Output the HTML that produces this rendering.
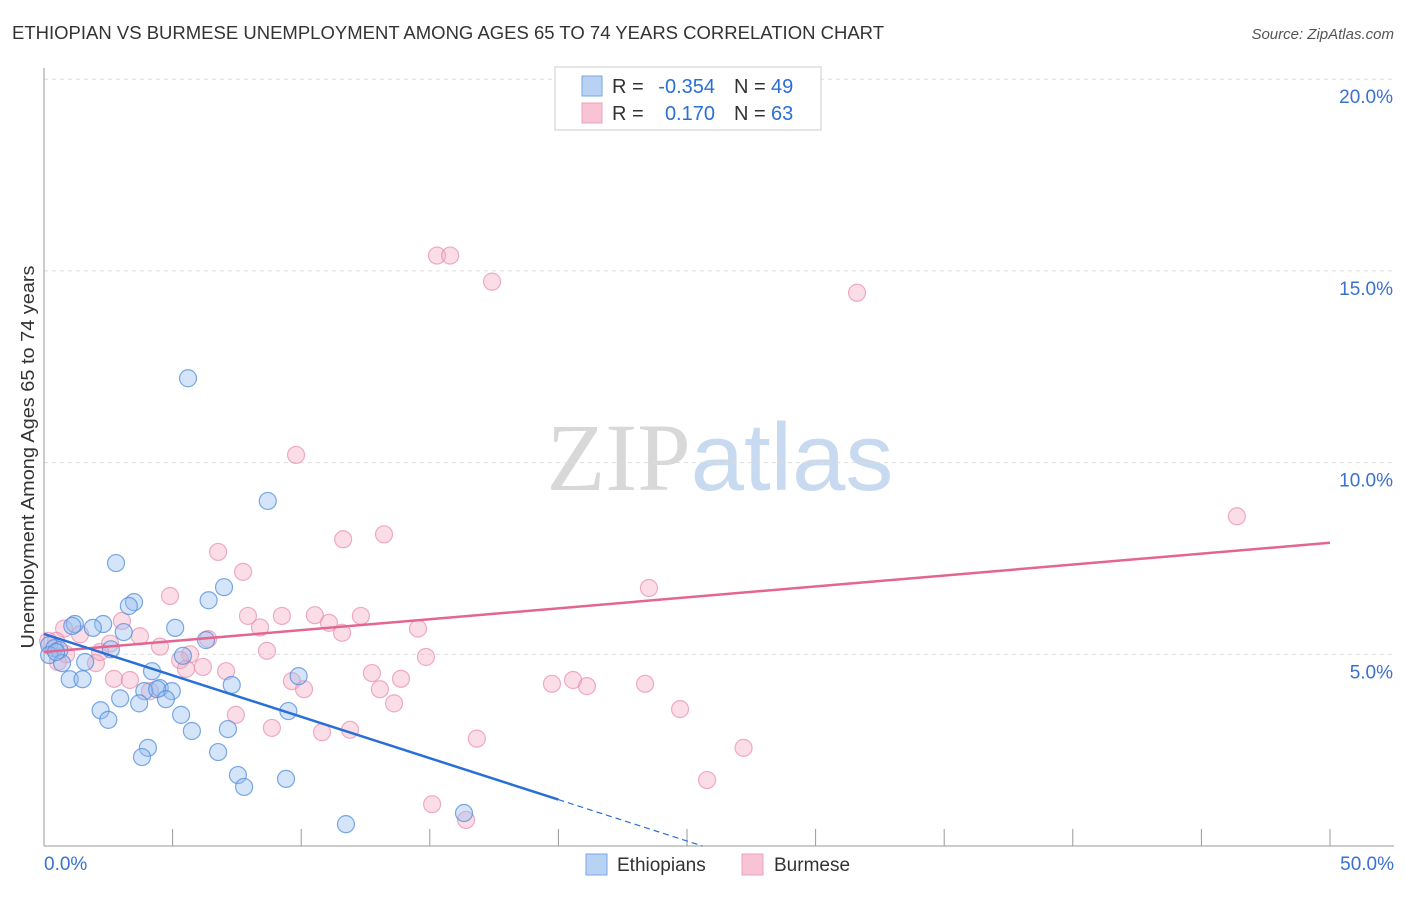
<!DOCTYPE html>
<html><head><meta charset="utf-8"><style>
body{margin:0;background:#fff;font-family:"Liberation Sans",sans-serif;}
svg text{font-family:"Liberation Sans",sans-serif;}
</style></head><body>
<svg id="chart" width="1406" height="892" xmlns="http://www.w3.org/2000/svg">
<text x="12" y="39" font-size="18" fill="#333" textLength="872" lengthAdjust="spacingAndGlyphs">ETHIOPIAN VS BURMESE UNEMPLOYMENT AMONG AGES 65 TO 74 YEARS CORRELATION CHART</text>
<text x="1394" y="39" font-size="15" fill="#555" text-anchor="end" font-style="italic">Source: ZipAtlas.com</text>
<text x="720" y="490" font-size="96" text-anchor="middle"><tspan fill="#d8d8d8" font-family="Liberation Serif">ZIP</tspan><tspan fill="#c8daf0">atlas</tspan></text>
<g id="grid"></g>
<g id="axes"></g>
<g id="pts"></g>
<g id="lines"></g>
<text transform="translate(34,457) rotate(-90)" font-size="18" fill="#333" text-anchor="middle" textLength="383" lengthAdjust="spacingAndGlyphs">Unemployment Among Ages 65 to 74 years</text>
<g>
<rect x="555" y="67" width="266" height="63" fill="#fff" stroke="#ccc"/>
<rect x="582" y="76" width="20" height="20" fill="#b8d2f4" stroke="#7aa6e4"/>
<rect x="582" y="103" width="20" height="20" fill="#f8c4d4" stroke="#eca0bc"/>
<text x="612" y="93" font-size="20" fill="#333">R =</text>
<text x="715" y="93" font-size="20" fill="#2a6fd6" text-anchor="end">-0.354</text>
<text x="734" y="93" font-size="20" fill="#333">N =</text>
<text x="771" y="93" font-size="20" fill="#2a6fd6">49</text>
<text x="612" y="120" font-size="20" fill="#333">R =</text>
<text x="715" y="120" font-size="20" fill="#2a6fd6" text-anchor="end">0.170</text>
<text x="734" y="120" font-size="20" fill="#333">N =</text>
<text x="771" y="120" font-size="20" fill="#2a6fd6">63</text>
</g>
<g>
<rect x="586" y="854" width="21" height="21" fill="#b8d2f4" stroke="#7aa6e4"/>
<text x="617" y="871" font-size="19" fill="#333">Ethiopians</text>
<rect x="742" y="854" width="21" height="21" fill="#f8c4d4" stroke="#eca0bc"/>
<text x="774" y="871" font-size="19" fill="#333">Burmese</text>
</g>
</svg>
<script>
const yTicks=[5,10,15,20];
const yTickLabels=["5.0%","10.0%","15.0%","20.0%"];
const ethX=[5.6,8.7,2.8,7.0,6.4,3.5,3.3,2.3,1.2,1.1,3.1,1.9,5.1,6.3,2.6,0.2,0.4,0.6,0.2,0.7,1.6,5.4,9.9,4.2,1.0,1.5,7.3,4.5,4.97,3.9,4.4,4.74,3.7,2.96,2.2,9.5,2.5,5.33,7.15,5.75,4.04,3.81,6.77,7.54,7.78,9.41,16.33,11.74,0.47];
const ethY=[12.2,9.0,7.38,6.75,6.41,6.36,6.26,5.79,5.79,5.74,5.58,5.69,5.69,5.37,5.13,5.24,5.16,5.11,4.98,4.77,4.8,4.96,4.43,4.56,4.35,4.35,4.2,4.12,4.04,4.04,4.09,3.83,3.72,3.85,3.54,3.52,3.29,3.42,3.05,3.0,2.56,2.32,2.45,1.85,1.54,1.75,0.86,0.57,5.06];
const burX=[15.28,15.79,17.42,31.61,9.8,46.38,13.22,11.63,6.77,7.74,4.9,23.52,7.93,9.25,10.53,12.32,11.08,3.03,8.4,14.54,11.59,6.38,0.78,1.4,3.73,0.47,4.51,2.57,5.68,8.67,0.86,5.29,14.85,2.02,5.52,6.18,7.08,12.75,2.72,3.34,13.88,9.64,19.75,20.57,21.11,23.37,13.06,10.11,4.12,13.61,24.73,7.46,8.86,10.81,11.9,16.83,27.2,25.78,15.09,16.41,0.16,0.54,2.18];
const burY=[15.4,15.4,14.72,14.43,10.2,8.6,8.13,8.0,7.67,7.15,6.52,6.73,6.0,6.0,6.02,6.0,5.82,5.87,5.7,5.67,5.56,5.4,5.67,5.52,5.47,5.35,5.2,5.28,5.0,5.09,5.0,4.85,4.93,4.77,4.62,4.67,4.56,4.51,4.36,4.33,4.36,4.3,4.23,4.33,4.17,4.23,4.09,4.09,4.04,3.72,3.57,3.42,3.08,2.97,3.03,2.8,2.56,1.72,1.09,0.68,5.35,4.8,5.06];
const ethLine=[5.53,-0.216];
const burLine=[5.06,0.057];
const NS="http://www.w3.org/2000/svg";
const X=v=>44+v/50*1286, Y=v=>846-v/5*191.7;
function mk(p,t,a){const e=document.createElementNS(NS,t);for(const k in a)e.setAttribute(k,a[k]);p.appendChild(e);return e;}
const grid=document.getElementById('grid'),axes=document.getElementById('axes'),pts=document.getElementById('pts'),lines=document.getElementById('lines');
yTicks.forEach((t,i)=>{
 const l=mk(grid,'line',{x1:44,x2:1394,y1:Y(t),y2:Y(t),stroke:'#ddd','stroke-dasharray':'4,4'});
 
 
 const tx=mk(axes,'text',{x:1393,y:Y(t)+24,'font-size':19,fill:'#3a70d0','text-anchor':'end'});
 tx.textContent=yTickLabels[i];
 
 
});
const ya=mk(axes,'line',{x1:44,x2:44,y1:68,y2:846,stroke:'#999'});


const xa=mk(axes,'line',{x1:44,x2:1394,y1:846,y2:846,stroke:'#999'});


for(let i=0;i<=10;i++){
 const tk=mk(axes,'line',{x1:X(i*5),x2:X(i*5),y1:829,y2:846,stroke:'#999'});
 
 
}
[["0.0%",44,"start"],["50.0%",1394,"end"]].forEach(a=>{const t=mk(axes,'text',{x:a[1],y:870,'font-size':19,fill:'#3a70d0','text-anchor':a[2]});t.textContent=a[0];
 
 });
burX.forEach((v,i)=>{const c=mk(pts,'circle',{cx:X(v),cy:Y(burY[i]),r:8.5,fill:'rgba(244,170,195,0.4)',stroke:'rgba(232,140,172,0.7)','stroke-width':1.2});
 
 });
ethX.forEach((v,i)=>{const c=mk(pts,'circle',{cx:X(v),cy:Y(ethY[i]),r:8.5,fill:'rgba(150,190,240,0.4)',stroke:'rgba(80,140,220,0.75)','stroke-width':1.2});
 
 });
const bl=mk(lines,'line',{x1:X(0),y1:Y(burLine[0]),x2:X(50),y2:Y(burLine[0]+burLine[1]*50),stroke:'#e36591','stroke-width':2.5});


const el=mk(lines,'line',{x1:X(0),y1:Y(ethLine[0]),x2:X(20),y2:Y(ethLine[0]+ethLine[1]*20),stroke:'#2a6fd6','stroke-width':2.5});


const xe=-ethLine[0]/ethLine[1];
const ed=mk(lines,'line',{x1:X(20),y1:Y(ethLine[0]+ethLine[1]*20),x2:X(xe),y2:Y(0),stroke:'#2a6fd6','stroke-width':1.2,'stroke-dasharray':'6,4'});


</script>
</body></html>
